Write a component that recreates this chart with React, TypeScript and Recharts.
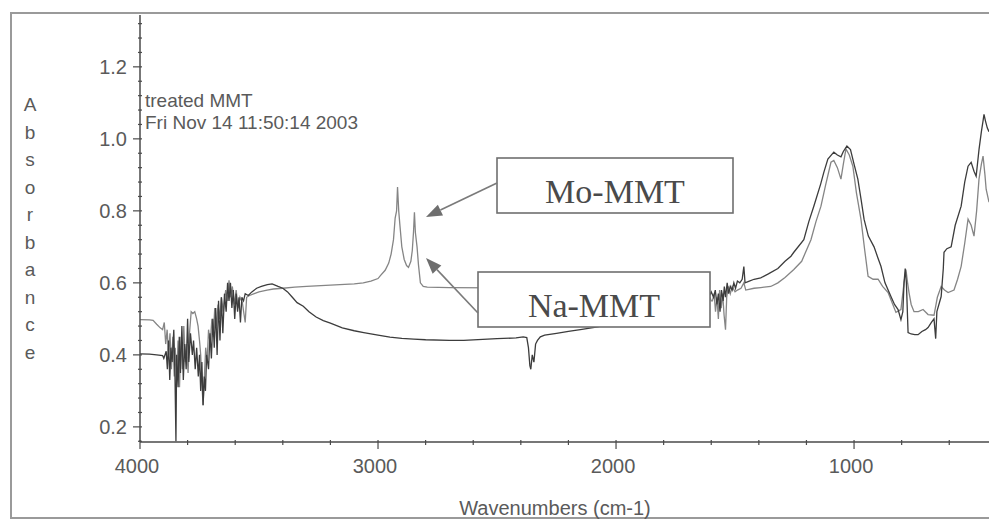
import { LineChart, Line, XAxis, YAxis } from "recharts";

// Na-MMT (dark trace)
const naWave = [
  4000, 3960, 3930, 3905, 3900, 3890, 3885, 3880, 3875, 3870, 3865, 3858, 3853, 3849, 3846, 3840, 3835, 3830,
  3824, 3818, 3812, 3806, 3800, 3795, 3788, 3780, 3775, 3768, 3762, 3755, 3750, 3745, 3740, 3735, 3730, 3725,
  3720, 3712, 3706, 3700, 3694, 3688, 3682, 3676, 3670, 3664, 3658, 3652, 3645, 3638, 3632, 3626, 3620, 3614,
  3608, 3602, 3596, 3590, 3584, 3578, 3572, 3565, 3558, 3545, 3530, 3510, 3490, 3465, 3445, 3420, 3400, 3380,
  3360, 3340, 3314, 3290, 3260, 3230, 3200, 3150, 3100, 3060, 3000, 2950, 2900, 2850, 2800, 2700, 2640, 2560,
  2500, 2420, 2390, 2375, 2368, 2362, 2358, 2352, 2345, 2338, 2330, 2318, 2300, 2250, 2200, 2150, 2077, 2000,
  1900, 1800, 1700, 1640, 1610, 1600, 1590, 1583, 1576, 1570, 1563, 1557, 1550, 1545, 1540, 1533, 1527, 1520,
  1512, 1505, 1498, 1490, 1480, 1470, 1463, 1458, 1440, 1420, 1392, 1360, 1320, 1290, 1265, 1253, 1211, 1190,
  1169, 1140, 1127, 1110, 1085, 1070, 1055, 1045, 1030, 1015, 1000, 984, 970, 958, 940, 916, 900, 887, 870,
  845, 830, 815, 803, 795, 790, 785, 780, 775, 773, 760, 745, 731, 715, 700, 689, 675, 664, 657, 652, 634,
  625, 622, 610, 592, 575, 550, 535, 521, 508, 496, 487, 475, 465, 458, 454, 448, 440, 433,
];
const naAbs = [
  0.403, 0.402, 0.4, 0.398, 0.39, 0.41, 0.36, 0.44, 0.33, 0.42, 0.38, 0.47, 0.34, 0.16, 0.4, 0.31, 0.45, 0.35,
  0.48, 0.33, 0.43, 0.36, 0.5, 0.38, 0.46, 0.4, 0.44, 0.36, 0.42, 0.34, 0.4, 0.3, 0.38, 0.26, 0.34, 0.3,
  0.4, 0.36, 0.46, 0.39, 0.5, 0.42, 0.53, 0.4, 0.55, 0.44, 0.56, 0.46, 0.57, 0.52, 0.6, 0.55, 0.6, 0.53,
  0.58, 0.5, 0.57, 0.52, 0.56, 0.49, 0.56, 0.55, 0.57, 0.565, 0.575, 0.585, 0.59, 0.595, 0.597, 0.59, 0.585, 0.575,
  0.56, 0.545, 0.535, 0.52, 0.505, 0.495, 0.488, 0.475, 0.467, 0.462, 0.455, 0.449, 0.446, 0.444, 0.442, 0.44, 0.44, 0.443,
  0.445, 0.447, 0.45, 0.448, 0.42, 0.37, 0.36, 0.4, 0.38, 0.43, 0.44, 0.45, 0.455, 0.46, 0.465, 0.47, 0.478, 0.49,
  0.505, 0.52, 0.54, 0.55, 0.56, 0.575, 0.56, 0.58, 0.54, 0.57, 0.52, 0.58, 0.55, 0.59, 0.56, 0.6, 0.57, 0.59,
  0.58, 0.6, 0.585, 0.605, 0.6, 0.61, 0.645, 0.6, 0.605, 0.61, 0.614, 0.625, 0.64, 0.66, 0.674, 0.685, 0.72, 0.77,
  0.813, 0.875, 0.907, 0.944, 0.963, 0.955, 0.95, 0.965, 0.98, 0.97, 0.93, 0.888, 0.83, 0.777, 0.73, 0.7, 0.67, 0.646, 0.6,
  0.562, 0.54, 0.526, 0.498, 0.52, 0.6, 0.64, 0.6, 0.5, 0.462, 0.458, 0.456, 0.456, 0.465, 0.47, 0.476, 0.49, 0.5, 0.445, 0.52, 0.562,
  0.64, 0.685, 0.695, 0.7, 0.76, 0.813, 0.88, 0.924, 0.935, 0.91, 0.896, 0.97, 1.02, 1.05, 1.068, 1.05, 1.03, 1.02,
];

// Mo-MMT (light trace)
const moWave = [
  4000, 3960, 3945, 3930, 3915, 3905, 3898, 3892, 3886, 3880, 3874, 3868, 3862, 3856, 3852, 3846, 3840, 3834,
  3828, 3822, 3816, 3810, 3804, 3798, 3792, 3785, 3778, 3770, 3762, 3756, 3750, 3745, 3740, 3735, 3730, 3724,
  3718, 3712, 3705, 3698, 3692, 3686, 3680, 3672, 3665, 3658, 3650, 3640, 3632, 3626, 3620, 3612, 3604, 3596,
  3588, 3580, 3570, 3558, 3552, 3540, 3520, 3500, 3466, 3440, 3400, 3350, 3300, 3200, 3100, 3062, 3030, 3000,
  2990, 2970, 2955, 2945, 2935, 2928, 2922, 2918, 2913, 2908, 2900, 2890, 2880, 2872, 2862, 2856, 2851, 2847,
  2843, 2836, 2830, 2822, 2810, 2793, 2700, 2500, 2300, 2100, 1900, 1700, 1620, 1600, 1595, 1588, 1582, 1576,
  1570, 1565, 1558, 1552, 1546, 1540, 1535, 1528, 1520, 1512, 1500, 1490, 1475, 1463, 1455, 1420, 1392, 1350,
  1320, 1290, 1253, 1220, 1181, 1160, 1139, 1120, 1097, 1085, 1070, 1055, 1045, 1034, 1020, 1005, 990, 971,
  955, 941, 920, 899, 880, 857, 840, 824, 803, 790, 782, 775, 769, 760, 748, 730, 710, 689, 664, 650, 634,
  620, 605, 580, 565, 550, 535, 521, 508, 496, 485, 475, 465, 458, 450, 445, 433,
];
const moAbs = [
  0.498, 0.497, 0.496, 0.485, 0.475, 0.47, 0.49, 0.43, 0.47, 0.4, 0.46, 0.36, 0.45, 0.34, 0.42, 0.33, 0.44, 0.31,
  0.45, 0.36, 0.48, 0.38, 0.43, 0.35, 0.46, 0.52, 0.515, 0.52, 0.5, 0.48, 0.44, 0.4, 0.32, 0.26, 0.33, 0.42,
  0.38, 0.47, 0.43, 0.5, 0.45, 0.53, 0.48, 0.54, 0.5, 0.56, 0.52, 0.58, 0.55, 0.607, 0.56, 0.59, 0.54, 0.58,
  0.53, 0.56, 0.545, 0.49, 0.56, 0.565, 0.57, 0.575, 0.58, 0.583, 0.585, 0.588, 0.59, 0.594, 0.597, 0.6, 0.605, 0.612,
  0.62, 0.635, 0.655, 0.68, 0.72, 0.78, 0.8, 0.866, 0.8, 0.76, 0.7, 0.665, 0.648, 0.643, 0.66, 0.69, 0.74, 0.796,
  0.74, 0.7, 0.65, 0.6, 0.59, 0.588, 0.587, 0.586, 0.586, 0.586, 0.586, 0.585, 0.59, 0.55, 0.55, 0.57, 0.52, 0.56,
  0.5, 0.58, 0.53, 0.57, 0.51, 0.47, 0.56, 0.59, 0.57, 0.59, 0.575, 0.58, 0.585, 0.6, 0.58, 0.585, 0.587, 0.59,
  0.6, 0.615, 0.637, 0.66, 0.72, 0.77, 0.813, 0.87, 0.935, 0.94, 0.92, 0.888, 0.93, 0.972, 0.955, 0.924, 0.85, 0.777,
  0.69, 0.618, 0.61, 0.61, 0.59, 0.573, 0.545, 0.518, 0.526, 0.6, 0.637, 0.6, 0.573, 0.54, 0.52, 0.52, 0.526, 0.512, 0.51, 0.56, 0.59,
  0.58, 0.573, 0.58, 0.61, 0.646, 0.71, 0.777, 0.76, 0.73, 0.8, 0.888, 0.93, 0.952, 0.9, 0.86, 0.824,
];

const xTicks = [4000, 3800, 3600, 3400, 3200, 3000, 2800, 2600, 2400, 2200, 2000, 1800, 1600, 1400, 1200, 1000, 800, 600];
const xMajor = [4000, 3000, 2000, 1000];
const yTicks = [
  0.16, 0.2, 0.24, 0.28, 0.32, 0.36, 0.4, 0.44, 0.48, 0.52, 0.56, 0.6, 0.64, 0.68, 0.72, 0.76, 0.8, 0.84, 0.88,
  0.92, 0.96, 1.0, 1.04, 1.08, 1.12, 1.16, 1.2, 1.24, 1.28, 1.32,
];
const yMajor = [0.2, 0.4, 0.6, 0.8, 1.0, 1.2];
const yTitle = "Absorbance";
const xTitle = "Wavenumbers (cm-1)";
const noteLines = ["treated MMT", "Fri Nov 14 11:50:14 2003"];
const seriesNames = ["Mo-MMT", "Na-MMT"];

const naData = naWave.map((w, i) => ({ w, a: naAbs[i] }));
const moData = moWave.map((w, i) => ({ w, a: moAbs[i] }));

const FONT = "'Liberation Sans', Arial, sans-serif";
const AXIS = "#4a4a4a";
const TEXT = "#5a5a5a";

const isMajor = (list: number[], v: number) => list.some((m) => Math.abs(m - v) < 1e-6);

const YTick = (props: any) => {
  const { x, y, payload } = props;
  const major = isMajor(yMajor, payload.value);
  return (
    <g>
      <line x1={major ? x - 7 : x - 2} x2={x + 2} y1={y} y2={y} stroke={AXIS} strokeWidth={1.2} />
      {major && (
        <text x={x - 13} y={y + 7} textAnchor="end" fontFamily={FONT} fontSize={20} fill={TEXT}>
          {payload.value.toFixed(1)}
        </text>
      )}
    </g>
  );
};

const XTick = (props: any) => {
  const { x, y, payload } = props;
  const major = isMajor(xMajor, payload.value);
  return (
    <g>
      <line x1={x} x2={x} y1={y - 2} y2={major ? y + 7 : y + 3} stroke={AXIS} strokeWidth={1.2} />
      {major && (
        <text x={x - 3} y={y + 31} textAnchor="middle" fontFamily={FONT} fontSize={20} fill={TEXT}>
          {payload.value}
        </text>
      )}
    </g>
  );
};

// arrow from box edge to the point it marks
const Arrow = ({ x1, y1, x2, y2 }: { x1: number; y1: number; x2: number; y2: number }) => {
  const ang = Math.atan2(y2 - y1, x2 - x1);
  const len = 16;
  const half = 6;
  const bx = x2 - len * Math.cos(ang);
  const by = y2 - len * Math.sin(ang);
  const px = -Math.sin(ang) * half;
  const py = Math.cos(ang) * half;
  return (
    <g>
      <line x1={x1} y1={y1} x2={bx} y2={by} stroke="#7a7a7a" strokeWidth={1.6} />
      <polygon points={`${x2},${y2} ${bx + px},${by + py} ${bx - px},${by - py}`} fill="#6e6e6e" />
    </g>
  );
};

export default function App() {
  return (
    <div style={{ position: "absolute", left: 0, top: 0, width: 989, height: 525, background: "#fff", overflow: "hidden" }}>
      <div
        style={{
          position: "absolute",
          left: 10,
          top: 12,
          width: 1000,
          height: 507,
          border: "2px solid #9a9a9a",
          boxSizing: "border-box",
        }}
      />
      <div style={{ position: "absolute", left: 0, top: 0 }}>
        <LineChart width={989} height={525} margin={{ top: 15, right: 0, bottom: 23, left: 10 }}>
          <XAxis
            dataKey="w"
            type="number"
            domain={[433, 4000]}
            reversed
            allowDataOverflow
            ticks={xTicks}
            interval={0}
            tickSize={0}
            tickMargin={0}
            tickLine={false}
            tick={<XTick />}
            height={60}
            axisLine={{ stroke: AXIS, strokeWidth: 1.5 }}
          />
          <YAxis
            type="number"
            domain={[0.158, 1.344]}
            allowDataOverflow
            ticks={yTicks}
            interval={0}
            tickSize={0}
            tickMargin={0}
            tickLine={false}
            tick={<YTick />}
            width={130}
            axisLine={{ stroke: AXIS, strokeWidth: 1.5 }}
          />
          <Line
            data={moData}
            dataKey="a"
            name={seriesNames[0]}
            type="linear"
            stroke="#858585"
            strokeWidth={1.3}
            dot={false}
            isAnimationActive={false}
          />
          <Line
            data={naData}
            dataKey="a"
            name={seriesNames[1]}
            type="linear"
            stroke="#3c3c3c"
            strokeWidth={1.3}
            dot={false}
            isAnimationActive={false}
          />
        </LineChart>
      </div>
      <svg width={989} height={525} style={{ position: "absolute", left: 0, top: 0, pointerEvents: "none" }}>
        {yTitle.split("").map((ch, i) => (
          <text key={i} x={30} y={111 + i * 27.5} textAnchor="middle" fontFamily={FONT} fontSize={19} fill={TEXT}>
            {ch}
          </text>
        ))}
        <text x={555} y={515} textAnchor="middle" fontFamily={FONT} fontSize={20} fill={TEXT}>
          {xTitle}
        </text>
        {noteLines.map((t, i) => (
          <text key={t} x={145} y={107 + i * 22} fontFamily={FONT} fontSize={19} fill={TEXT}>
            {t}
          </text>
        ))}
        <rect x={497} y={158} width={236} height={55} fill="#fff" stroke="#6f6f6f" strokeWidth={1.6} />
        <text x={615} y={203} textAnchor="middle" fontFamily="'Liberation Serif', 'Times New Roman', serif" fontSize={34} fill="#4a4a4a">
          {seriesNames[0]}
        </text>
        <rect x={478} y={272} width={232} height={55} fill="#fff" stroke="#6f6f6f" strokeWidth={1.6} />
        <text x={594} y={317} textAnchor="middle" fontFamily="'Liberation Serif', 'Times New Roman', serif" fontSize={34} fill="#4a4a4a">
          {seriesNames[1]}
        </text>
        <Arrow x1={497} y1={183} x2={426} y2={217} />
        <Arrow x1={478} y1={313} x2={426} y2={258} />
      </svg>
    </div>
  );
}
